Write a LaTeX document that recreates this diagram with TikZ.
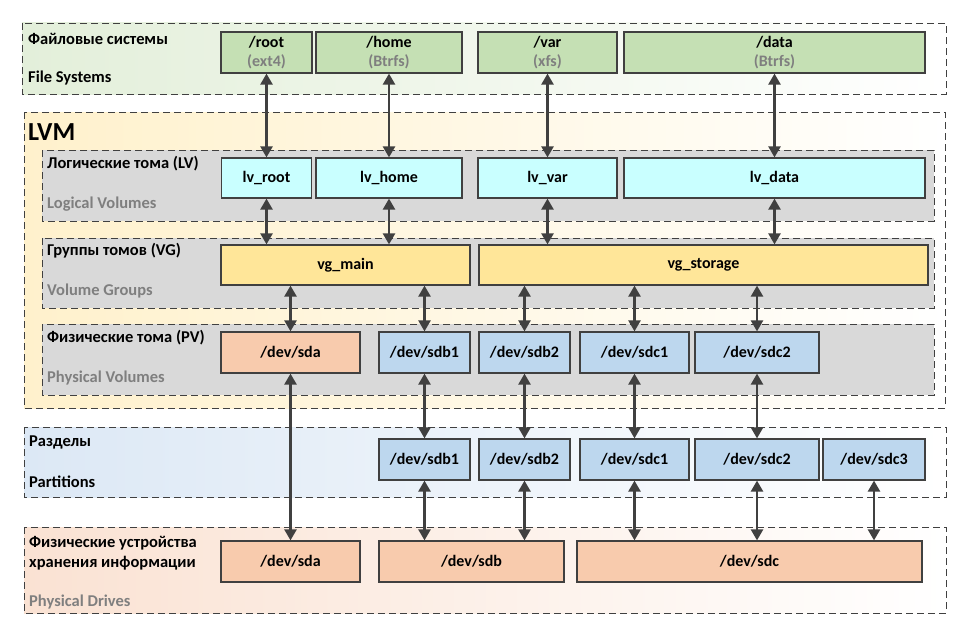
\documentclass[tikz,border=0pt]{standalone}
\usepackage{fontspec}
\setmainfont{Carlito}
\usetikzlibrary{arrows.meta}

\definecolor{linegray}{HTML}{404040}
\definecolor{textgray}{HTML}{7F7F7F}
\definecolor{bandgray}{HTML}{D9D9D9}
\definecolor{fsgreen}{HTML}{C5E0B4}
\definecolor{lvcyan}{HTML}{C9FFFF}
\definecolor{vgyellow}{HTML}{FFE699}
\definecolor{pdpeach}{HTML}{F8CBAD}
\definecolor{ptblue}{HTML}{BDD7EE}
\definecolor{fsband}{HTML}{E3EFDA}
\definecolor{lvmband}{HTML}{FFF1CC}
\definecolor{ptband}{HTML}{DCE8F5}
\definecolor{pdband}{HTML}{FAE2D3}

\begin{document}
\begin{tikzpicture}[x=1pt, y=-1pt,
		band_style/.style={draw=linegray, line width=0.9pt, dash pattern=on 7pt off 4pt},
		box_style/.style={draw=linegray, line width=1.2pt, inner sep=0pt, align=center,
			font=\bfseries\fontsize{16}{19.5}\selectfont},
		label_style/.style={anchor=west, inner sep=0pt, font=\bfseries\fontsize{16.5}{20}\selectfont},
		sub_style/.style={label_style, text=textgray},
		edge_style/.style={draw=linegray, line width=2.4pt,
			{Triangle[length=11pt,width=12pt]}-{Triangle[length=11pt,width=12pt]}}]
		
		\useasboundingbox (0,0) rectangle (961,626);
		
		% bands
		\draw[band_style, left color=fsband, right color=white] (22,23) rectangle (946,94);
		\draw[band_style, left color=lvmband, right color=white] (24,112) rectangle (945,408);
		\draw[band_style, fill=bandgray] (42,150) rectangle (934,221);
		\draw[band_style, fill=bandgray] (42,238) rectangle (934,308);
		\draw[band_style, fill=bandgray] (42,324) rectangle (934,395);
		\draw[band_style, left color=ptband, right color=white] (24,427) rectangle (946,497);
		\draw[band_style, left color=pdband, right color=white] (24,527) rectangle (946,613);
		
		% labels
		\node[label_style] (l_fs) at (28,39) {Файловые системы};
		\node[label_style] (l_fs_en) at (28,78) {File Systems};
		\node[label_style, font=\bfseries\fontsize{26}{30}\selectfont] (l_lvm) at (28,132) {LVM};
		\node[label_style] (l_lv) at (47,164) {Логические тома (LV)};
		\node[sub_style] (l_lv_en) at (47,204) {Logical Volumes};
		\node[label_style] (l_vg) at (47,251) {Группы томов (VG)};
		\node[sub_style] (l_vg_en) at (47,291) {Volume Groups};
		\node[label_style] (l_pv) at (47,338) {Физические тома (PV)};
		\node[sub_style] (l_pv_en) at (47,378) {Physical Volumes};
		\node[label_style] (l_pt) at (29,442) {Разделы};
		\node[label_style] (l_pt_en) at (29,482) {Partitions};
		\node[label_style, align=left] (l_pd) at (29,553) {Физические устройства\\хранения информации};
		\node[sub_style] (l_pd_en) at (29,602) {Physical Drives};
		
		% file systems
		\node[box_style, fill=fsgreen, minimum width=91, minimum height=41] (root) at (266.5,52.5) {/root\\\textcolor{textgray}{(ext4)}};
		\node[box_style, fill=fsgreen, minimum width=146, minimum height=41] (home) at (389,52.5) {/home\\\textcolor{textgray}{(Btrfs)}};
		\node[box_style, fill=fsgreen, minimum width=139, minimum height=41] (var) at (547.5,52.5) {/var\\\textcolor{textgray}{(xfs)}};
		\node[box_style, fill=fsgreen, minimum width=301, minimum height=41] (data) at (774.5,52.5) {/data\\\textcolor{textgray}{(Btrfs)}};
		
		% logical volumes
		\node[box_style, fill=lvcyan, minimum width=90, minimum height=40] (lv_root) at (266.5,178) {lv\_root};
		\node[box_style, fill=lvcyan, minimum width=146, minimum height=40] (lv_home) at (389,178) {lv\_home};
		\node[box_style, fill=lvcyan, minimum width=139, minimum height=40] (lv_var) at (547.5,178) {lv\_var};
		\node[box_style, fill=lvcyan, minimum width=301, minimum height=40] (lv_data) at (774.5,178) {lv\_data};
		
		% volume groups
		\node[box_style, fill=vgyellow, minimum width=249, minimum height=40] (vg_main) at (345.5,265) {vg\_main};
		\node[box_style, fill=vgyellow, minimum width=449, minimum height=40] (vg_storage) at (703.5,265) {vg\_storage};
		
		% physical volumes
		\node[box_style, fill=pdpeach, minimum width=139, minimum height=41] (pv_sda) at (290.5,352.5) {/dev/sda};
		\node[box_style, fill=ptblue, minimum width=91, minimum height=41] (pv_sdb1) at (424.5,352.5) {/dev/sdb1};
		\node[box_style, fill=ptblue, minimum width=91, minimum height=41] (pv_sdb2) at (524.5,352.5) {/dev/sdb2};
		\node[box_style, fill=ptblue, minimum width=109, minimum height=41] (pv_sdc1) at (634.5,352.5) {/dev/sdc1};
		\node[box_style, fill=ptblue, minimum width=124, minimum height=41] (pv_sdc2) at (757,352.5) {/dev/sdc2};
		
		% partitions
		\node[box_style, fill=ptblue, minimum width=91, minimum height=41] (pt_sdb1) at (424.5,459.5) {/dev/sdb1};
		\node[box_style, fill=ptblue, minimum width=91, minimum height=41] (pt_sdb2) at (524.5,459.5) {/dev/sdb2};
		\node[box_style, fill=ptblue, minimum width=109, minimum height=41] (pt_sdc1) at (634.5,459.5) {/dev/sdc1};
		\node[box_style, fill=ptblue, minimum width=124, minimum height=41] (pt_sdc2) at (757,459.5) {/dev/sdc2};
		\node[box_style, fill=ptblue, minimum width=102, minimum height=41] (pt_sdc3) at (874,459.5) {/dev/sdc3};
		
		% physical drives
		\node[box_style, fill=pdpeach, minimum width=139, minimum height=41] (pd_sda) at (290.5,561.5) {/dev/sda};
		\node[box_style, fill=pdpeach, minimum width=185, minimum height=41] (pd_sdb) at (471.5,561.5) {/dev/sdb};
		\node[box_style, fill=pdpeach, minimum width=345, minimum height=41] (pd_sdc) at (749.5,561.5) {/dev/sdc};
		
		% file systems <-> logical volumes
		\draw[edge_style] (root) -- (lv_root);
		\draw[edge_style] (home) -- (lv_home);
		\draw[edge_style] (var) -- (lv_var);
		\draw[edge_style] (data) -- (lv_data);
		
		% logical volumes <-> volume groups
		\draw[edge_style] (lv_root.south) -- (lv_root.south |- vg_main.north);
		\draw[edge_style] (lv_home.south) -- (lv_home.south |- vg_main.north);
		\draw[edge_style] (lv_var.south) -- (lv_var.south |- vg_storage.north);
		\draw[edge_style] (lv_data.south) -- (lv_data.south |- vg_storage.north);
		
		% volume groups <-> physical volumes
		\draw[edge_style] (pv_sda.north |- vg_main.south) -- (pv_sda.north);
		\draw[edge_style] (pv_sdb1.north |- vg_main.south) -- (pv_sdb1.north);
		\draw[edge_style] (pv_sdb2.north |- vg_storage.south) -- (pv_sdb2.north);
		\draw[edge_style] (pv_sdc1.north |- vg_storage.south) -- (pv_sdc1.north);
		\draw[edge_style] (pv_sdc2.north |- vg_storage.south) -- (pv_sdc2.north);
		
		% physical volumes <-> partitions / drives
		\draw[edge_style] (pv_sda) -- (pd_sda);
		\draw[edge_style] (pv_sdb1) -- (pt_sdb1);
		\draw[edge_style] (pv_sdb2) -- (pt_sdb2);
		\draw[edge_style] (pv_sdc1) -- (pt_sdc1);
		\draw[edge_style] (pv_sdc2) -- (pt_sdc2);
		
		% partitions <-> physical drives
		\draw[edge_style] (pt_sdb1.south) -- (pt_sdb1.south |- pd_sdb.north);
		\draw[edge_style] (pt_sdb2.south) -- (pt_sdb2.south |- pd_sdb.north);
		\draw[edge_style] (pt_sdc1.south) -- (pt_sdc1.south |- pd_sdc.north);
		\draw[edge_style] (pt_sdc2.south) -- (pt_sdc2.south |- pd_sdc.north);
		\draw[edge_style] (pt_sdc3.south) -- (pt_sdc3.south |- pd_sdc.north);
		
\end{tikzpicture}
\end{document}
